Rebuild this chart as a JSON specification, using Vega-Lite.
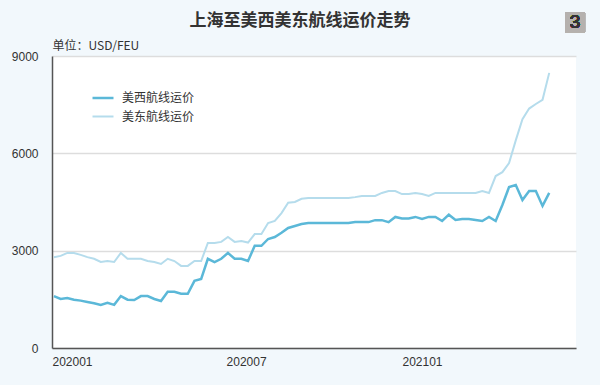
{
  "$schema": "https://vega.github.io/schema/vega-lite/v6.json",
  "width": 524,
  "height": 292,
  "autosize": {"type": "none"},
  "padding": {"left": 52, "top": 56, "right": 24, "bottom": 37},
  "background": "#f2f8fc",
  "view": {"fill": "white", "stroke": null},
  "config": {
    "font": "Liberation Sans",
    "axis": {"labelFont": "Liberation Sans", "labelFontSize": 12, "labelColor": "#333333"},
    "legend": {"labelFont": "Noto Sans CJK SC"}
  },
  "title": {
    "text": "上海至美西美东航线运价走势",
    "font": "Noto Sans CJK SC",
    "fontSize": 17,
    "fontWeight": "bold",
    "color": "#333333",
    "anchor": "middle",
    "dx": -14,
    "dy": 26,
    "offset": 8
  },
  "data": {
    "values": [
      {"date": "2020-01-03", "美西航线运价": 1600, "美东航线运价": 2800},
      {"date": "2020-01-10", "美西航线运价": 1510, "美东航线运价": 2840},
      {"date": "2020-01-17", "美西航线运价": 1540, "美东航线运价": 2930},
      {"date": "2020-01-24", "美西航线运价": 1490, "美东航线运价": 2930},
      {"date": "2020-01-31", "美西航线运价": 1460, "美东航线运价": 2870},
      {"date": "2020-02-07", "美西航线运价": 1420, "美东航线运价": 2800},
      {"date": "2020-02-14", "美西航线运价": 1380, "美东航线运价": 2750},
      {"date": "2020-02-21", "美西航线运价": 1330, "美东航线运价": 2650},
      {"date": "2020-02-28", "美西航线运价": 1390, "美东航线运价": 2680},
      {"date": "2020-03-06", "美西航线运价": 1330, "美东航线运价": 2650},
      {"date": "2020-03-13", "美西航线运价": 1600, "美东航线运价": 2930},
      {"date": "2020-03-20", "美西航线运价": 1490, "美东航线运价": 2750},
      {"date": "2020-03-27", "美西航线运价": 1480, "美东航线运价": 2750},
      {"date": "2020-04-03", "美西航线运价": 1600, "美东航线运价": 2750},
      {"date": "2020-04-10", "美西航线运价": 1600, "美东航线运价": 2680},
      {"date": "2020-04-17", "美西航线运价": 1510, "美东航线运价": 2650},
      {"date": "2020-04-24", "美西航线运价": 1450, "美东航线运价": 2590},
      {"date": "2020-05-01", "美西航线运价": 1730, "美东航线运价": 2750},
      {"date": "2020-05-08", "美西航线运价": 1730, "美东航线运价": 2680},
      {"date": "2020-05-15", "美西航线运价": 1670, "美东航线运价": 2530},
      {"date": "2020-05-22", "美西航线运价": 1670, "美东航线运价": 2530},
      {"date": "2020-05-29", "美西航线运价": 2070, "美东航线运价": 2680},
      {"date": "2020-06-05", "美西航线运价": 2130, "美东航线运价": 2680},
      {"date": "2020-06-12", "美西航线运价": 2750, "美东航线运价": 3240},
      {"date": "2020-06-19", "美西航线运价": 2650, "美东航线运价": 3240},
      {"date": "2020-06-26", "美西航线运价": 2750, "美东航线运价": 3270},
      {"date": "2020-07-03", "美西航线运价": 2930, "美东航线运价": 3420},
      {"date": "2020-07-10", "美西航线运价": 2750, "美东航线运价": 3270},
      {"date": "2020-07-17", "美西航线运价": 2750, "美东航线运价": 3300},
      {"date": "2020-07-24", "美西航线运价": 2680, "美东航线运价": 3250},
      {"date": "2020-07-31", "美西航线运价": 3150, "美东航线运价": 3510},
      {"date": "2020-08-07", "美西航线运价": 3150, "美东航线运价": 3510},
      {"date": "2020-08-14", "美西航线运价": 3360, "美东航线运价": 3850},
      {"date": "2020-08-21", "美西航线运价": 3420, "美东航线运价": 3915},
      {"date": "2020-08-28", "美西航线运价": 3550, "美东航线运价": 4160},
      {"date": "2020-09-04", "美西航线运价": 3700, "美东航线运价": 4480},
      {"date": "2020-09-11", "美西航线运价": 3760, "美东航线运价": 4500},
      {"date": "2020-09-18", "美西航线运价": 3820, "美东航线运价": 4600},
      {"date": "2020-09-25", "美西航线运价": 3850, "美东航线运价": 4620},
      {"date": "2020-10-02", "美西航线运价": 3850, "美东航线运价": 4620},
      {"date": "2020-10-09", "美西航线运价": 3850, "美东航线运价": 4620},
      {"date": "2020-10-16", "美西航线运价": 3850, "美东航线运价": 4620},
      {"date": "2020-10-23", "美西航线运价": 3850, "美东航线运价": 4620},
      {"date": "2020-10-30", "美西航线运价": 3850, "美东航线运价": 4620},
      {"date": "2020-11-06", "美西航线运价": 3850, "美东航线运价": 4620},
      {"date": "2020-11-13", "美西航线运价": 3880, "美东航线运价": 4650},
      {"date": "2020-11-20", "美西航线运价": 3880, "美东航线运价": 4685},
      {"date": "2020-11-27", "美西航线运价": 3880, "美东航线运价": 4685},
      {"date": "2020-12-04", "美西航线运价": 3940, "美东航线运价": 4685},
      {"date": "2020-12-11", "美西航线运价": 3940, "美东航线运价": 4780},
      {"date": "2020-12-18", "美西航线运价": 3880, "美东航线运价": 4840},
      {"date": "2020-12-25", "美西航线运价": 4040, "美东航线运价": 4840},
      {"date": "2021-01-01", "美西航线运价": 3990, "美东航线运价": 4745},
      {"date": "2021-01-08", "美西航线运价": 3990, "美东航线运价": 4745},
      {"date": "2021-01-15", "美西航线运价": 4040, "美东航线运价": 4780},
      {"date": "2021-01-22", "美西航线运价": 3975, "美东航线运价": 4745},
      {"date": "2021-01-29", "美西航线运价": 4040, "美东航线运价": 4685},
      {"date": "2021-02-05", "美西航线运价": 4040, "美东航线运价": 4780},
      {"date": "2021-02-12", "美西航线运价": 3915, "美东航线运价": 4780},
      {"date": "2021-02-19", "美西航线运价": 4110, "美东航线运价": 4780},
      {"date": "2021-02-26", "美西航线运价": 3945, "美东航线运价": 4780},
      {"date": "2021-03-05", "美西航线运价": 3975, "美东航线运价": 4780},
      {"date": "2021-03-12", "美西航线运价": 3975, "美东航线运价": 4780},
      {"date": "2021-03-19", "美西航线运价": 3945, "美东航线运价": 4780},
      {"date": "2021-03-26", "美西航线运价": 3915, "美东航线运价": 4840},
      {"date": "2021-04-02", "美西航线运价": 4040, "美东航线运价": 4780},
      {"date": "2021-04-09", "美西航线运价": 3915, "美东航线运价": 5300},
      {"date": "2021-04-16", "美西航线运价": 4410, "美东航线运价": 5420},
      {"date": "2021-04-23", "美西航线运价": 4960, "美东航线运价": 5700},
      {"date": "2021-04-30", "美西航线运价": 5025, "美东航线运价": 6400},
      {"date": "2021-05-07", "美西航线运价": 4560, "美东航线运价": 7050},
      {"date": "2021-05-14", "美西航线运价": 4840, "美东航线运价": 7380},
      {"date": "2021-05-21", "美西航线运价": 4840, "美东航线运价": 7520},
      {"date": "2021-05-28", "美西航线运价": 4380, "美东航线运价": 7650},
      {"date": "2021-06-04", "美西航线运价": 4780, "美东航线运价": 8480}
    ]
  },
  "layer": [
    {
      "transform": [{"fold": ["美东航线运价", "美西航线运价"], "as": ["route", "price"]}],
      "mark": {"type": "line", "interpolate": "linear"},
      "encoding": {
        "x": {
          "field": "date",
          "type": "temporal",
          "scale": {
            "type": "utc",
            "domain": [
              {"year": 2020, "month": 1, "date": 1, "utc": true},
              {"year": 2021, "month": 7, "date": 2, "utc": true}
            ]
          },
          "axis": {
            "title": null,
            "values": [
              {"year": 2020, "month": 1, "date": 1, "utc": true},
              {"year": 2020, "month": 7, "date": 1, "utc": true},
              {"year": 2021, "month": 1, "date": 1, "utc": true}
            ],
            "labelExpr": "utcFormat(datum.value, '%Y%m')",
            "labelAlign": "left",
            "labelPadding": 8,
            "ticks": false,
            "grid": false,
            "domainColor": "#555555",
            "domainWidth": 1.5
          }
        },
        "y": {
          "field": "price",
          "type": "quantitative",
          "scale": {"domain": [0, 9000], "nice": false},
          "axis": {
            "title": "单位：USD/FEU",
            "titleFont": "Noto Sans CJK SC",
            "titleFontSize": 12,
            "titleFontWeight": "normal",
            "titleColor": "#333333",
            "titleAngle": 0,
            "titleAlign": "left",
            "titleBaseline": "alphabetic",
            "titleX": 0,
            "titleY": -7,
            "values": [0, 3000, 6000, 9000],
            "format": "d",
            "labelPadding": 14,
            "ticks": false,
            "grid": true,
            "gridColor": "#dddddd",
            "gridWidth": 1.5,
            "domainColor": "#555555",
            "domainWidth": 1.5
          }
        },
        "color": {
          "field": "route",
          "type": "nominal",
          "scale": {"domain": ["美西航线运价", "美东航线运价"], "range": ["#5bb8d8", "#b5dcec"]},
          "legend": {
            "title": null,
            "orient": "none",
            "legendX": 39,
            "legendY": 30,
            "padding": 0,
            "symbolType": "stroke",
            "symbolSize": 441,
            "symbolStrokeWidth": 3,
            "labelFontSize": 12,
            "labelColor": "#333333",
            "labelOffset": 7,
            "rowPadding": 1
          }
        },
        "strokeWidth": {
          "field": "route",
          "type": "nominal",
          "scale": {"domain": ["美西航线运价", "美东航线运价"], "range": [2.5, 2]},
          "legend": null
        }
      }
    },
    {
      "mark": {"type": "square", "clip": false, "color": "#b5b1ae", "opacity": 1, "size": 400},
      "encoding": {
        "x": {"datum": {"year": 2021, "month": 7, "date": 1, "utc": true}, "type": "temporal"},
        "y": {"datum": 10034, "type": "quantitative"}
      }
    },
    {
      "mark": {"type": "text", "clip": false, "text": "3", "fontSize": 19, "fontWeight": "normal", "color": "#333333", "align": "center", "baseline": "middle", "font": "Liberation Sans"},
      "encoding": {
        "x": {"datum": {"year": 2021, "month": 7, "date": 1, "utc": true}, "type": "temporal"},
        "y": {"datum": 10034, "type": "quantitative"}
      }
    }
  ]
}
